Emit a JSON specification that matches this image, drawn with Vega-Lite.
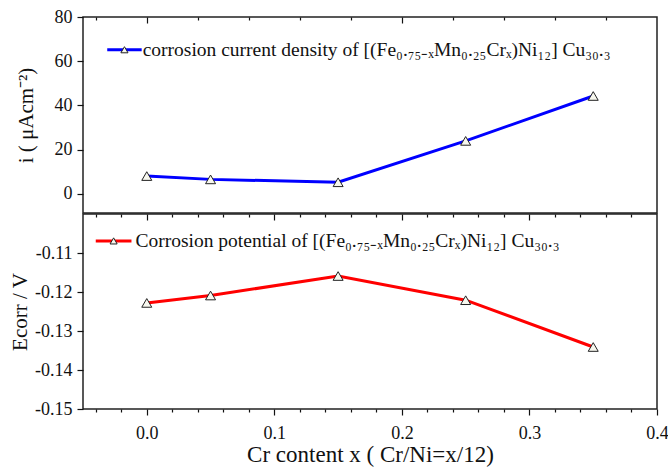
{
  "$schema": "https://vega.github.io/schema/vega-lite/v6.json",
  "background": "white",
  "padding": {"left": 8, "top": 7, "right": 2, "bottom": 5},
  "spacing": -5,
  "datasets": {
    "cur": [
      {"x": 0.0, "y": 8.1},
      {"x": 0.05, "y": 6.6},
      {"x": 0.15, "y": 5.3},
      {"x": 0.25, "y": 24.0},
      {"x": 0.35, "y": 44.3}
    ],
    "pot": [
      {"x": 0.0, "y": -0.1228},
      {"x": 0.05, "y": -0.1209},
      {"x": 0.15, "y": -0.1159},
      {"x": 0.25, "y": -0.1221},
      {"x": 0.35, "y": -0.1341}
    ],
    "legTop": [
      {"x": -0.031, "x2": -0.004, "xm": -0.0175, "y": 65.2, "label": "corrosion current density of [(Fe₀.₇₅₋ₓMn₀.₂₅Crₓ)Ni₁₂] Cu₃₀.₃"}
    ],
    "legBot": [
      {"x": -0.040, "x2": -0.012, "xm": -0.026, "y": -0.1069, "label": "Corrosion potential of  [(Fe₀.₇₅₋ₓMn₀.₂₅Crₓ)Ni₁₂] Cu₃₀.₃"}
    ]
  },
  "vconcat": [
    {
      "width": 574,
      "height": 196,
      "layer": [
        {
          "data": {"name": "cur"},
          "mark": {"type": "line", "color": "#0000ff", "strokeWidth": 3},
          "encoding": {
            "x": {"field": "x", "type": "quantitative", "scale": {"domain": [-0.05, 0.4], "nice": false, "zero": false},
              "axis": {"orient": "top", "title": null, "labels": false, "domain": false,
                "values": [-0.04, -0.02, 0, 0.02, 0.04, 0.06, 0.08, 0.1, 0.12, 0.14, 0.16, 0.18, 0.2, 0.22, 0.24, 0.26, 0.28, 0.3, 0.32, 0.34, 0.36, 0.38],
                "tickSize": {"condition": {"test": "abs(datum.value*10 - round(datum.value*10)) < 0.001", "value": -6}, "value": -3}}},
            "y": {"field": "y", "type": "quantitative", "scale": {"domain": [-8.6, 80], "nice": false, "zero": false},
              "axis": {"title": "i ( μAcm⁻²)", "titleFontSize": 21, "titlePadding": 18, "labelFontSize": 18, "labelPadding": 5, "domain": false,
                "values": [0, 10, 20, 30, 40, 50, 60, 70, 80],
                "labelExpr": "datum.value % 20 == 0 ? datum.label : ''",
                "tickSize": {"condition": {"test": "datum.value % 20 == 0", "value": 6}, "value": 3}}}
          }
        },
        {
          "data": {"name": "cur"},
          "mark": {"type": "point", "shape": "triangle-up", "filled": true, "fill": "#f7f7ee", "stroke": "#222", "strokeWidth": 1, "size": 100, "opacity": 1},
          "encoding": {
            "x": {"field": "x", "type": "quantitative"},
            "y": {"field": "y", "type": "quantitative"}
          }
        },
        {
          "data": {"name": "legTop"},
          "mark": {"type": "rule", "color": "#0000ff", "strokeWidth": 3},
          "encoding": {
            "x": {"field": "x", "type": "quantitative"},
            "x2": {"field": "x2"},
            "y": {"field": "y", "type": "quantitative"}
          }
        },
        {
          "data": {"name": "legTop"},
          "mark": {"type": "point", "shape": "triangle-up", "filled": true, "fill": "#f7f7ee", "stroke": "#222", "strokeWidth": 1, "size": 50, "opacity": 1},
          "encoding": {
            "x": {"field": "xm", "type": "quantitative"},
            "y": {"field": "y", "type": "quantitative"}
          }
        },
        {
          "data": {"name": "legTop"},
          "mark": {"type": "text", "align": "left", "baseline": "middle", "dx": 1, "font": "Liberation Serif", "fontSize": 19.5, "color": "#111"},
          "encoding": {
            "x": {"field": "x2", "type": "quantitative"},
            "y": {"field": "y", "type": "quantitative"},
            "text": {"field": "label"}
          }
        }
      ]
    },
    {
      "width": 574,
      "height": 195,
      "resolve": {"axis": {"x": "independent"}},
      "layer": [
        {
          "data": {"name": "pot"},
          "mark": {"type": "line", "color": "#ff0000", "strokeWidth": 3},
          "encoding": {
            "x": {"field": "x", "type": "quantitative", "scale": {"domain": [-0.05, 0.4], "nice": false, "zero": false},
              "axis": {"orient": "bottom", "title": "Cr content x ( Cr/Ni=x/12)", "titleFontSize": 23, "titlePadding": 1, "labelFontSize": 18, "labelPadding": 9, "domain": false,
                "values": [-0.04, -0.02, 0, 0.02, 0.04, 0.06, 0.08, 0.1, 0.12, 0.14, 0.16, 0.18, 0.2, 0.22, 0.24, 0.26, 0.28, 0.3, 0.32, 0.34, 0.36, 0.38, 0.4],
                "labelExpr": "abs(datum.value*10 - round(datum.value*10)) < 0.001 ? format(datum.value, '.1f') : ''",
                "tickSize": {"condition": {"test": "abs(datum.value*10 - round(datum.value*10)) < 0.001", "value": 6}, "value": 3}}},
            "y": {"field": "y", "type": "quantitative", "scale": {"domain": [-0.15, -0.10], "nice": false, "zero": false},
              "axis": {"title": "Ecorr / V", "titleFontSize": 21, "titlePadding": 4, "labelFontSize": 18, "labelPadding": 5, "domain": false,
                "values": [-0.15, -0.145, -0.14, -0.135, -0.13, -0.125, -0.12, -0.115, -0.11, -0.105],
                "labelExpr": "abs(datum.value*100 - round(datum.value*100)) < 0.001 ? replace(format(datum.value, '.2f'), '−', '-') : ''",
                "tickSize": {"condition": {"test": "abs(datum.value*100 - round(datum.value*100)) < 0.001", "value": 6}, "value": 3}}}
          }
        },
        {
          "data": {"name": "pot"},
          "mark": {"type": "point", "shape": "triangle-up", "filled": true, "fill": "#f7f7ee", "stroke": "#222", "strokeWidth": 1, "size": 100, "opacity": 1},
          "encoding": {
            "x": {"field": "x", "type": "quantitative",
              "axis": {"orient": "top", "title": null, "labels": false, "domain": false,
                "values": [-0.04, -0.02, 0, 0.02, 0.04, 0.06, 0.08, 0.1, 0.12, 0.14, 0.16, 0.18, 0.2, 0.22, 0.24, 0.26, 0.28, 0.3, 0.32, 0.34, 0.36, 0.38],
                "tickSize": {"condition": {"test": "abs(datum.value*10 - round(datum.value*10)) < 0.001", "value": -6}, "value": -3}}},
            "y": {"field": "y", "type": "quantitative"}
          }
        },
        {
          "data": {"name": "legBot"},
          "mark": {"type": "rule", "color": "#ff0000", "strokeWidth": 3},
          "encoding": {
            "x": {"field": "x", "type": "quantitative", "axis": null},
            "x2": {"field": "x2"},
            "y": {"field": "y", "type": "quantitative"}
          }
        },
        {
          "data": {"name": "legBot"},
          "mark": {"type": "point", "shape": "triangle-up", "filled": true, "fill": "#f7f7ee", "stroke": "#222", "strokeWidth": 1, "size": 50, "opacity": 1},
          "encoding": {
            "x": {"field": "xm", "type": "quantitative", "axis": null},
            "y": {"field": "y", "type": "quantitative"}
          }
        },
        {
          "data": {"name": "legBot"},
          "mark": {"type": "text", "align": "left", "baseline": "middle", "dx": 4, "font": "Liberation Serif", "fontSize": 19.5, "color": "#111"},
          "encoding": {
            "x": {"field": "x2", "type": "quantitative", "axis": null},
            "y": {"field": "y", "type": "quantitative"},
            "text": {"field": "label"}
          }
        }
      ]
    }
  ],
  "config": {
    "font": "Liberation Serif",
    "view": {"stroke": "#222", "strokeWidth": 1.5},
    "axis": {"labelFont": "Liberation Serif", "titleFont": "Liberation Serif", "titleFontWeight": "normal", "labelColor": "#111", "titleColor": "#111", "tickColor": "#111", "tickWidth": 1.2, "grid": false, "labelFlush": false, "labelOverlap": false}
  }
}
